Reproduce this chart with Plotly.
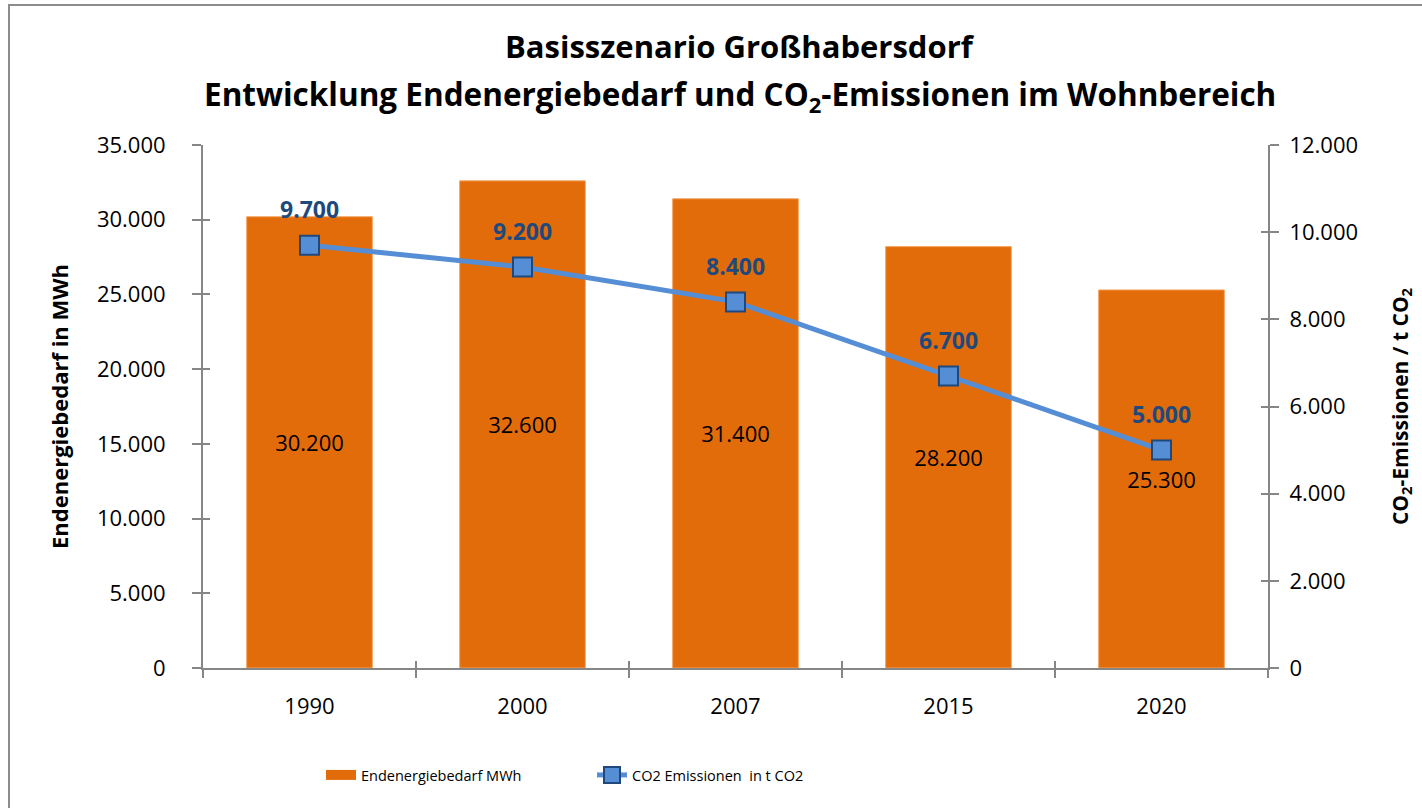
import plotly.graph_objects as go

years = ["1990", "2000", "2007", "2015", "2020"]
energy_mwh = [30200, 32600, 31400, 28200, 25300]
co2_t = [9700, 9200, 8400, 6700, 5000]

def de(v):
    return f"{v:,}".replace(",", ".")

FONT = "Open Sans"
ORANGE = "#E36C0A"
BLUE = "#558ED5"
DARKBLUE = "#1F497D"
AXIS = "#868686"

# plot area in pixels
L, R, T, B = 203, 1268, 145, 668
PW, PH = R - L, B - T
def px(x): return (x - L) / PW
def py(y): return (B - y) / PH

fig = go.Figure()
fig.add_trace(go.Bar(
    x=years, y=energy_mwh, name="Endenergiebedarf MWh", showlegend=False,
    marker=dict(color=ORANGE, line=dict(color="#F4A460", width=1)),
    text=[de(v) for v in energy_mwh], textposition="inside",
    insidetextanchor="middle", textangle=0,
    textfont=dict(family=FONT, size=22, color="black"),
    yaxis="y",
))
# legend-only entry with a wide rectangular swatch
fig.add_trace(go.Scatter(
    x=[None], y=[None], name="Endenergiebedarf MWh", mode="lines",
    line=dict(color=ORANGE, width=13), yaxis="y",
))
fig.add_trace(go.Scatter(
    x=years, y=co2_t, name="CO2 Emissionen  in t CO2", mode="lines+markers",
    line=dict(color=BLUE, width=5),
    marker=dict(symbol="square", size=19, color=BLUE, line=dict(color=DARKBLUE, width=2)),
    yaxis="y2",
))
# invisible helper traces so the inner tick-mark axes are drawn (ticks cross the axis lines)
for xa, ya in [("x2", "y3"), ("x2", "y4")]:
    fig.add_trace(go.Scatter(x=years, y=[None] * len(years), xaxis=xa, yaxis=ya,
                             mode="markers", showlegend=False, hoverinfo="skip"))

for i, v in enumerate(co2_t):
    fig.add_annotation(x=i, y=v, xref="x", yref="y2", text=f"<b>{de(v)}</b>",
                       showarrow=False, yshift=36,
                       font=dict(family=FONT, size=23, color=DARKBLUE))

# title lines
fig.add_annotation(xref="paper", yref="paper", x=px(740), y=py(46), xanchor="center",
                   yanchor="middle", showarrow=False,
                   text="<b>Basisszenario Großhabersdorf</b>",
                   font=dict(family=FONT, size=31, color="black"))
fig.add_annotation(xref="paper", yref="paper", x=px(740), y=py(96), xanchor="center",
                   yanchor="middle", showarrow=False,
                   text="<b>Entwicklung Endenergiebedarf und CO<sub>2</sub>-Emissionen im Wohnbereich</b>",
                   font=dict(family=FONT, size=31.5, color="black"))

tick_common = dict(tickcolor=AXIS, tickwidth=2, showgrid=False, zeroline=False)

fig.update_layout(
    width=1422, height=808,
    margin=dict(l=L, r=1422 - R, t=T, b=808 - B),
    paper_bgcolor="white", plot_bgcolor="white",
    font=dict(family=FONT, size=22, color="black"),
    bargap=0.41,
    showlegend=True,
    legend=dict(orientation="h", x=px(321), xanchor="left", y=py(775), yanchor="middle",
                font=dict(family=FONT, size=14.5), itemwidth=30, traceorder="normal",
                entrywidthmode="pixels", entrywidth=226),
    xaxis=dict(type="category", range=[-0.5, 4.5], showline=True, linecolor=AXIS, linewidth=2,
               ticks="outside", tickson="boundaries", ticklen=8,
               tickfont=dict(size=22), ticklabelstandoff=18, **tick_common),
    xaxis2=dict(type="category", categoryarray=years, categoryorder="array",
                range=[-0.5, 4.5], overlaying="x", anchor="y3", side="bottom",
                ticks="inside", tickson="boundaries", ticklen=7, showticklabels=False,
                showline=False, **tick_common),
    yaxis=dict(range=[0, 35000], dtick=5000, showline=True, linecolor=AXIS, linewidth=2,
               ticks="outside", ticklen=9, tickformat=",d", ticklabelstandoff=22,
               title=dict(text="<b>Endenergiebedarf in MWh</b>", font=dict(size=22), standoff=22),
               **tick_common),
    yaxis2=dict(range=[0, 12000], dtick=2000, overlaying="y", side="right", showline=True,
                linecolor=AXIS, linewidth=2, ticks="outside", ticklen=9,
                tickformat=",d", ticklabelstandoff=6,
                title=dict(text="<b>CO<sub>2</sub>-Emissionen / t CO<sub>2</sub></b>",
                           font=dict(size=21), standoff=36),
                **tick_common),
    yaxis3=dict(range=[0, 35000], dtick=5000, overlaying="y", side="left", anchor="x2",
                ticks="inside", ticklen=7, showticklabels=False, showline=False, **tick_common),
    yaxis4=dict(range=[0, 12000], dtick=2000, overlaying="y", side="right", anchor="x2",
                ticks="inside", ticklen=7, showticklabels=False, showline=False, **tick_common),
    separators=",.",
)

# chart border (left and top edges visible)
fig.add_shape(type="rect", xref="paper", yref="paper",
              x0=px(9), x1=px(1440), y0=py(830), y1=py(5),
              line=dict(color="#8C8C8C", width=2), fillcolor="rgba(0,0,0,0)", layer="below")

fig.write_html("out.html", config={"displayModeBar": False},
               post_script="document.body.style.margin='0';")
